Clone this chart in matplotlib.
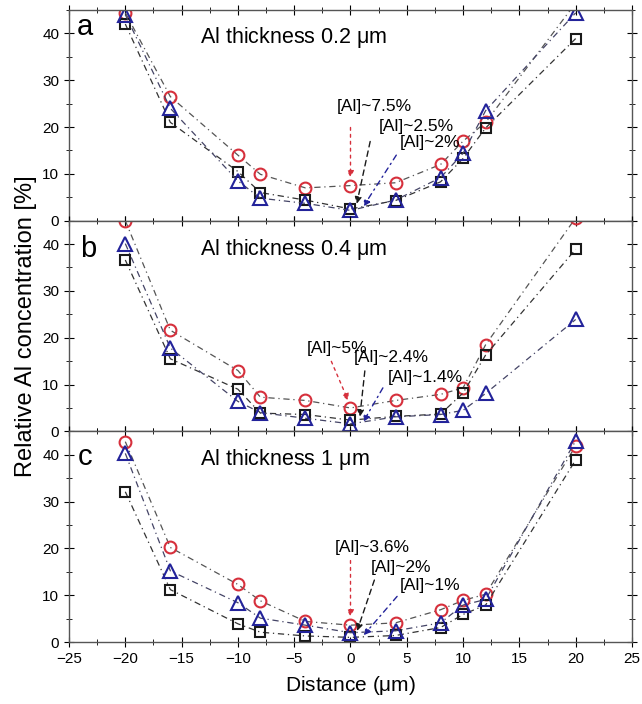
import numpy as np
import matplotlib
matplotlib.use('Agg')
import matplotlib.pyplot as plt
from matplotlib.ticker import MultipleLocator
from matplotlib import font_manager

# distance positions (um)
distance = [-20, -16, -10, -8, -4, 0, 4, 8, 10, 12, 20]

# panel a: Al thickness 0.2 um
a_circle = [44.4, 26.5, 14.0, 9.9, 7.0, 7.5, 8.1, 12.0, 17.0, 21.0, 46.5]
a_square = [42.0, 21.0, 10.5, 6.0, 4.4, 2.5, 4.3, 8.3, 13.3, 19.8, 38.9]
a_triangle = [44.0, 24.0, 8.5, 4.8, 3.7, 2.2, 4.4, 9.2, 14.4, 23.5, 44.4]

# panel b: Al thickness 0.4 um
b_circle = [45.0, 21.6, 13.0, 7.3, 6.6, 5.0, 6.6, 7.9, 9.3, 18.5, 45.6]
b_square = [36.6, 15.5, 9.0, 3.9, 3.6, 2.4, 3.2, 3.7, 8.2, 16.3, 38.9]
b_triangle = [40.1, 17.8, 6.4, 4.0, 2.8, 1.6, 3.1, 3.6, 4.5, 8.1, 23.9]

# panel c: Al thickness 1 um
c_circle = [42.8, 20.2, 12.3, 8.8, 4.4, 3.6, 4.1, 6.9, 8.9, 10.2, 41.9]
c_square = [32.1, 11.2, 3.9, 2.1, 1.3, 1.0, 1.4, 3.1, 5.9, 7.9, 38.9]
c_triangle = [40.3, 15.2, 8.4, 5.1, 3.6, 2.0, 2.4, 4.1, 7.9, 9.1, 43.0]

letters = ['a', 'b', 'c']
titles = [r'Al thickness 0.2 $\mathrm{\mu}$m', r'Al thickness 0.4 $\mathrm{\mu}$m',
          r'Al thickness 1 $\mathrm{\mu}$m']
labels_a = ['[Al]~7.5%', '[Al]~2.5%', '[Al]~2%']
labels_b = ['[Al]~5%', '[Al]~2.4%', '[Al]~1.4%']
labels_c = ['[Al]~3.6%', '[Al]~2%', '[Al]~1%']

# text position, arrow start, arrow end (circle, square, triangle)
ann_a = [((-1.2, 22.8), (0.0, 20.5), (0.0, 8.6)),
         ((2.5, 18.6), (1.8, 17.5), (0.5, 3.0)),
         ((4.4, 15.0), (4.2, 14.5), (1.0, 2.5))]
ann_b = [((-3.9, 16.2), (-1.8, 15.5), (-0.1, 6.0)),
         ((0.3, 14.1), (1.3, 13.5), (0.8, 2.5)),
         ((3.3, 10.0), (3.0, 9.8), (1.0, 1.5))]
ann_c = [((-1.4, 18.6), (0.0, 18.0), (0.0, 4.8)),
         ((1.8, 14.4), (2.2, 13.8), (0.5, 1.8)),
         ((4.4, 10.5), (4.3, 10.2), (1.0, 1.0))]

letter_pos = [(-24.3, 39.7), (-24.0, 37.2), (-24.2, 37.8)]
title_pos = [(-13.4, 38.0), (-13.4, 37.6), (-13.4, 37.8)]

red = '#d6303c'
blue = '#23239a'
black = '#1a1a1a'

plt.rcParams['font.family'] = ['Liberation Sans', 'DejaVu Sans']
plt.rcParams['mathtext.fontset'] = 'custom'
plt.rcParams['mathtext.rm'] = 'Liberation Sans'

names = set(f.name for f in font_manager.fontManager.ttflist)
if 'Liberation Sans Narrow' in names:
    big_font = 'Liberation Sans Narrow'
    title_size, ylab_size, letter_size = 18, 20, 24
else:
    big_font = 'Liberation Sans'
    title_size, ylab_size, letter_size = 15.5, 17, 21

fig = plt.figure(figsize=(6.42, 7.04), dpi=100)
left, right, bottom, top = 0.1075, 0.9844, 0.088, 0.9858
h = (top - bottom) / 3

panels = [(a_circle, a_square, a_triangle, labels_a, ann_a),
          (b_circle, b_square, b_triangle, labels_b, ann_b),
          (c_circle, c_square, c_triangle, labels_c, ann_c)]

for i, (circ, sq, tri, labs, anns) in enumerate(panels):
    ax = fig.add_axes([left, top - (i + 1) * h, right - left, h])
    ax.plot(distance, circ, linestyle=(0, (5, 3, 1, 3)), color='#555555', lw=0.9,
            marker='o', ms=8.5, mfc='none', mec=red, mew=1.5)
    ax.plot(distance, sq, linestyle=(0, (5, 3, 1, 3)), color='#333333', lw=0.9,
            marker='s', ms=7.5, mfc='none', mec=black, mew=1.5)
    ax.plot(distance, tri, linestyle=(0, (5, 3, 1, 3)), color='#444466', lw=0.9,
            marker='^', ms=9.5, mfc='none', mec=blue, mew=1.5)
    ax.set_xlim(-25, 25)
    ax.set_ylim(0, 45)
    ax.xaxis.set_major_locator(MultipleLocator(5))
    ax.xaxis.set_minor_locator(MultipleLocator(2.5))
    ax.yaxis.set_major_locator(MultipleLocator(10))
    ax.yaxis.set_minor_locator(MultipleLocator(5))
    ax.tick_params(which='both', top=True, right=True, direction='in', labelsize=11)
    ax.tick_params(axis='y', which='both', left=True, direction='inout')
    ax.tick_params(axis='x', which='both', bottom=True, direction='inout')
    ax.tick_params(which='major', length=7)
    ax.tick_params(which='minor', length=4)
    for s in ax.spines.values():
        s.set_color('#555555')
        s.set_linewidth(1.0)
    if i < 2:
        ax.set_xticklabels([])
    else:
        ax.set_xlabel(r'Distance ($\mathrm{\mu}$m)', fontsize=15, labelpad=6)
    if i == 1:
        ax.set_ylabel('Relative Al concentration [%]', fontsize=ylab_size,
                      family=[big_font, 'DejaVu Sans'], labelpad=4)
    ax.text(letter_pos[i][0], letter_pos[i][1], letters[i], fontsize=letter_size,
            family=[big_font, 'DejaVu Sans'], va='baseline')
    ax.text(title_pos[i][0], title_pos[i][1], titles[i], fontsize=title_size,
            family=[big_font, 'DejaVu Sans'], va='baseline')

    cols = [red, black, blue]
    styles = [(0, (2, 3)), (0, (4, 3)), (0, (4, 3, 1, 3))]
    for lab, (txt, start, end), c, st in zip(labs, anns, cols, styles):
        ax.text(txt[0], txt[1], lab, fontsize=12.5, va='bottom', ha='left')
        ax.annotate('', xy=end, xytext=start,
                    arrowprops=dict(arrowstyle='-|>', color=c, lw=1.0,
                                    linestyle=st, mutation_scale=10))

fig.savefig('out.png', dpi=100)
